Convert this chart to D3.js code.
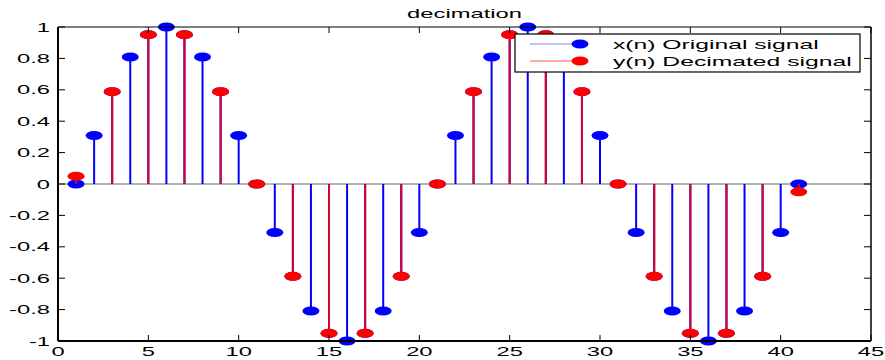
<!DOCTYPE html>
<html>
<head>
<meta charset="utf-8">
<script src="https://cdn.jsdelivr.net/npm/d3@7"></script>
<style>
  body { margin: 0; background: #fff; }
  svg { display: block; font-family: "Liberation Sans", Arial, sans-serif; }
</style>
</head>
<body>
<svg id="chart"></svg>
<script>
// original signal x(n), n = 1..41
const xN = [1, 2, 3, 4, 5, 6, 7, 8, 9, 10, 11, 12, 13, 14, 15, 16, 17, 18, 19, 20, 21,
  22, 23, 24, 25, 26, 27, 28, 29, 30, 31, 32, 33, 34, 35, 36, 37, 38, 39, 40, 41];
const xVals = [0, 0.309, 0.588, 0.809, 0.951, 1, 0.951, 0.809, 0.588, 0.309, 0,
  -0.309, -0.588, -0.809, -0.951, -1, -0.951, -0.809, -0.588, -0.309, 0,
  0.309, 0.588, 0.809, 0.951, 1, 0.951, 0.809, 0.588, 0.309, 0,
  -0.309, -0.588, -0.809, -0.951, -1, -0.951, -0.809, -0.588, -0.309, 0];

// decimated signal y(n), plotted at odd n
const yN = [1, 3, 5, 7, 9, 11, 13, 15, 17, 19, 21, 23, 25, 27, 29, 31, 33, 35, 37, 39, 41];
const yVals = [0.05, 0.588, 0.951, 0.951, 0.588, 0, -0.588, -0.951, -0.951, -0.588, 0,
  0.588, 0.951, 0.951, 0.588, 0, -0.588, -0.951, -0.951, -0.588, -0.05];

const xTicks = [0, 5, 10, 15, 20, 25, 30, 35, 40, 45];
const yTicks = [-1, -0.8, -0.6, -0.4, -0.2, 0, 0.2, 0.4, 0.6, 0.8, 1];
const seriesNames = ["x(n) Original signal", "y(n) Decimated signal"];
const title = "decimation";

const W = 885, H = 360;
const box = { left: 58, right: 871, top: 27, bottom: 341 };
const stretch = 1.9; // picture is stretched horizontally

const svg = d3.select("#chart").attr("width", W).attr("height", H);

const x = d3.scaleLinear().domain([0, 45]).range([box.left, box.right]);
const y = d3.scaleLinear().domain([-1, 1]).range([box.bottom, box.top]);

// baseline
svg.append("line")
  .attr("x1", box.left).attr("x2", box.right)
  .attr("y1", y(0)).attr("y2", y(0))
  .attr("stroke", "#999").attr("stroke-width", 1.5);

function stems(ns, vals, color, stemColor) {
  const data = ns.map((n, i) => ({ n, v: vals[i] }));
  const g = svg.append("g");
  g.selectAll("line").data(data).enter().append("line")
    .attr("x1", d => x(d.n)).attr("x2", d => x(d.n))
    .attr("y1", y(0)).attr("y2", d => y(d.v))
    .attr("stroke", stemColor).attr("stroke-width", 2);
  g.selectAll("ellipse").data(data).enter().append("ellipse")
    .attr("cx", d => x(d.n)).attr("cy", d => y(d.v))
    .attr("rx", 8.5).attr("ry", 4.5)
    .attr("fill", color);
}

stems(xN, xVals, "#0000ff", "#0000ff");
stems(yN, yVals, "#ff0000", "#d8002c");

// axes box
const axes = svg.append("g");
axes.append("line").attr("x1", box.left).attr("x2", box.left).attr("y1", box.top).attr("y2", box.bottom)
  .attr("stroke", "#000").attr("stroke-width", 2);
axes.append("line").attr("x1", box.left).attr("x2", box.right).attr("y1", box.bottom).attr("y2", box.bottom)
  .attr("stroke", "#000").attr("stroke-width", 2);
axes.append("line").attr("x1", box.left).attr("x2", box.right).attr("y1", box.top).attr("y2", box.top)
  .attr("stroke", "#000").attr("stroke-width", 1);
axes.append("line").attr("x1", box.right).attr("x2", box.right).attr("y1", box.top).attr("y2", box.bottom)
  .attr("stroke", "#000").attr("stroke-width", 1.5);

// ticks (inward) on all four sides
xTicks.forEach(t => {
  axes.append("line").attr("x1", x(t)).attr("x2", x(t)).attr("y1", box.bottom).attr("y2", box.bottom - 6)
    .attr("stroke", "#000");
  axes.append("line").attr("x1", x(t)).attr("x2", x(t)).attr("y1", box.top).attr("y2", box.top + 6)
    .attr("stroke", "#000");
});
yTicks.forEach(t => {
  axes.append("line").attr("x1", box.left).attr("x2", box.left + 7).attr("y1", y(t)).attr("y2", y(t))
    .attr("stroke", "#000");
  axes.append("line").attr("x1", box.right).attr("x2", box.right - 7).attr("y1", y(t)).attr("y2", y(t))
    .attr("stroke", "#000");
});

function stretchedText(px, py, str, anchor, size) {
  svg.append("text")
    .attr("transform", `translate(${px},${py}) scale(${stretch},1)`)
    .attr("text-anchor", anchor)
    .attr("font-size", size)
    .attr("fill", "#000")
    .text(str);
}

xTicks.forEach(t => stretchedText(x(t), 356, String(t), "middle", 12.5));
yTicks.forEach(t => stretchedText(box.left - 8, y(t) + 4.5, String(t), "end", 12.5));

stretchedText((box.left + box.right) / 2, 18, title, "middle", 12.5);

// legend
const lg = svg.append("g");
lg.append("rect").attr("x", 515).attr("y", 34).attr("width", 345).attr("height", 38)
  .attr("fill", "#fff").attr("stroke", "#000").attr("stroke-width", 1.2);
const legendColors = [["#8080ff", "#0000ff"], ["#ff5050", "#ff0000"]];
seriesNames.forEach((name, i) => {
  const ly = 44 + i * 17;
  lg.append("line").attr("x1", 530).attr("x2", 580).attr("y1", ly).attr("y2", ly)
    .attr("stroke", legendColors[i][0]).attr("stroke-width", 1);
  lg.append("ellipse").attr("cx", 580).attr("cy", ly).attr("rx", 8.5).attr("ry", 4.5)
    .attr("fill", legendColors[i][1]);
  stretchedText(613, ly + 5, name, "start", 13);
});
</script>
</body>
</html>
